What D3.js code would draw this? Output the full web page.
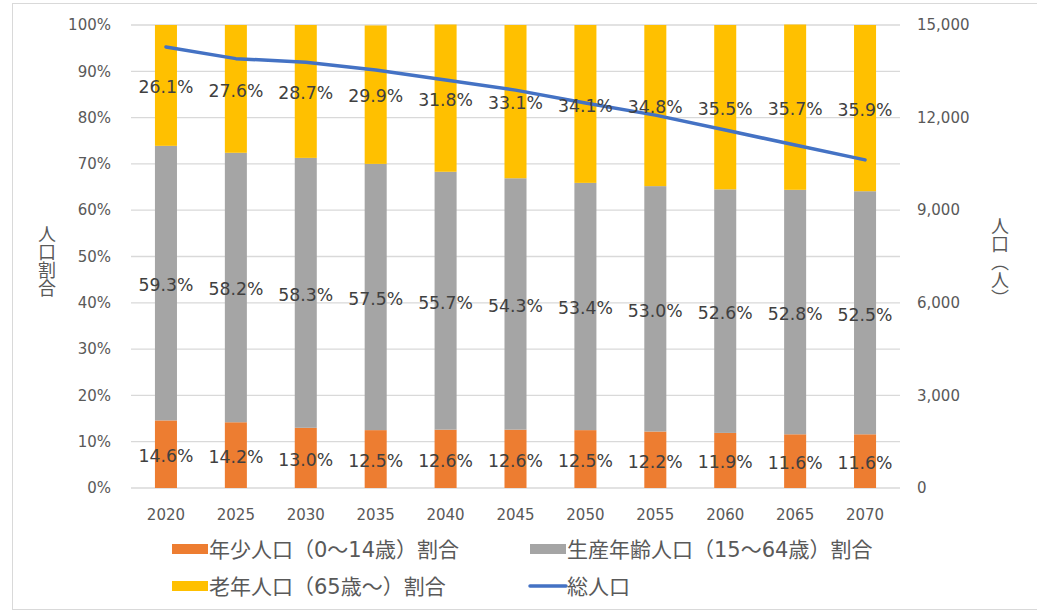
<!DOCTYPE html>
<html lang="ja">
<head>
<meta charset="UTF-8">
<title>人口割合</title>
<script src="https://cdn.jsdelivr.net/npm/d3@7"></script>
<style>
    body { margin: 0; background: #fff; }
    svg { display: block; font-family: "DejaVu Sans", "Noto Sans CJK JP", sans-serif; }
</style>
</head>
<body>
<svg width="1037" height="612"></svg>
<script>
    // data
    const years = ["2020","2025","2030","2035","2040","2045","2050","2055","2060","2065","2070"];
    const young = [14.6, 14.2, 13.0, 12.5, 12.6, 12.6, 12.5, 12.2, 11.9, 11.6, 11.6];
    const working = [59.3, 58.2, 58.3, 57.5, 55.7, 54.3, 53.4, 53.0, 52.6, 52.8, 52.5];
    const elderly = [26.1, 27.6, 28.7, 29.9, 31.8, 33.1, 34.1, 34.8, 35.5, 35.7, 35.9];
    const total = [14290, 13910, 13790, 13540, 13220, 12890, 12470, 12080, 11600, 11110, 10630];
    const leftTicks = [0,10,20,30,40,50,60,70,80,90,100];
    const rightTicks = [0,3000,6000,9000,12000,15000];
    const seriesNames = ["年少人口（0～14歳）割合", "生産年齢人口（15～64歳）割合", "老年人口（65歳～）割合", "総人口"];
    const colors = ["#ED7D31", "#A5A5A5", "#FFC000", "#4472C4"];

    const svg = d3.select("svg");
    const plotLeft = 131, plotRight = 900, plotTop = 25, plotBottom = 488;

    // outer frame
    svg.append("rect").attr("x", 12.5).attr("y", 3.5).attr("width", 1040).attr("height", 606)
        .attr("fill", "none").attr("stroke", "#d9d9d9");

    const x = d3.scaleBand().domain(years).range([plotLeft, plotRight]).paddingInner(0.685).paddingOuter(0.3425);
    const y = d3.scaleLinear().domain([0, 100]).range([plotBottom, plotTop]);
    const y2 = d3.scaleLinear().domain([0, 15000]).range([plotBottom, plotTop]);

    // gridlines
    svg.append("g").selectAll("line").data(leftTicks).enter().append("line")
        .attr("x1", plotLeft).attr("x2", plotRight)
        .attr("y1", d => y(d)).attr("y2", d => y(d))
        .attr("stroke", "#d9d9d9").attr("stroke-width", 1.3);

    // left axis
    svg.append("g").selectAll("text").data(leftTicks).enter().append("text")
        .attr("x", 111).attr("y", d => y(d)).attr("dy", "0.35em")
        .attr("text-anchor", "end").attr("font-size", 15).attr("fill", "#595959")
        .text(d => d + "%");

    // right axis
    svg.append("g").selectAll("text").data(rightTicks).enter().append("text")
        .attr("x", 917).attr("y", d => y2(d)).attr("dy", "0.35em")
        .attr("font-size", 15).attr("fill", "#595959")
        .text(d => d3.format(",")(d));

    // x axis labels
    svg.append("g").selectAll("text").data(years).enter().append("text")
        .attr("x", d => x(d) + x.bandwidth() / 2).attr("y", 515).attr("dy", "0.35em")
        .attr("text-anchor", "middle").attr("font-size", 15).attr("fill", "#595959")
        .text(d => d);

    // stacked bars
    const rows = years.map((yr, i) => ({year: yr, a: young[i], b: working[i], c: elderly[i]}));
    const stack = d3.stack().keys(["a", "b", "c"])(rows);

    stack.forEach((layer, k) => {
        const g = svg.append("g");
        g.selectAll("rect").data(layer).enter().append("rect")
            .attr("x", d => x(d.data.year)).attr("width", x.bandwidth())
            .attr("y", d => y(d[1])).attr("height", d => y(d[0]) - y(d[1]))
            .attr("fill", colors[k]);
    });

    // total population line
    const line = d3.line().x((d, i) => x(years[i]) + x.bandwidth() / 2).y(d => y2(d));
    svg.append("path").datum(total).attr("d", line)
        .attr("fill", "none").attr("stroke", colors[3]).attr("stroke-width", 3.5)
        .attr("stroke-linecap", "round").attr("stroke-linejoin", "round");

    // data labels
    stack.forEach(layer => {
        svg.append("g").selectAll("text").data(layer).enter().append("text")
            .attr("x", d => x(d.data.year) + x.bandwidth() / 2)
            .attr("y", d => y((d[0] + d[1]) / 2)).attr("dy", "0.45em")
            .attr("text-anchor", "middle").attr("font-size", 17.3).attr("fill", "#404040")
            .text(d => (d[1] - d[0]).toFixed(1) + "%");
    });

    // axis titles
    svg.append("text").attr("x", 47).attr("y", 225)
        .attr("writing-mode", "vertical-rl").attr("font-family", "Noto Sans CJK JP")
        .attr("font-size", 18).attr("fill", "#595959")
        .text("人口割合");
    svg.append("text").attr("x", 1000).attr("y", 217)
        .attr("writing-mode", "vertical-rl").attr("font-family", "Noto Sans CJK JP")
        .attr("font-size", 18).attr("fill", "#595959")
        .text("人口（人）");

    // legend
    const legendPos = [[172, 549], [530, 549], [172, 586], [530, 586]];
    seriesNames.forEach((name, i) => {
        const [lx, ly] = legendPos[i];
        if (i < 3) {
            svg.append("rect").attr("x", lx).attr("y", ly - 5).attr("width", 36).attr("height", 10)
                .attr("fill", colors[i]);
        } else {
            svg.append("line").attr("x1", lx).attr("x2", lx + 36).attr("y1", ly).attr("y2", ly)
                .attr("stroke", colors[i]).attr("stroke-width", 3.5).attr("stroke-linecap", "round");
        }
        svg.append("text").attr("x", lx + 37).attr("y", ly).attr("dy", "0.36em")
            .attr("font-size", 21).attr("fill", "#595959").text(name);
    });
</script>
</body>
</html>
